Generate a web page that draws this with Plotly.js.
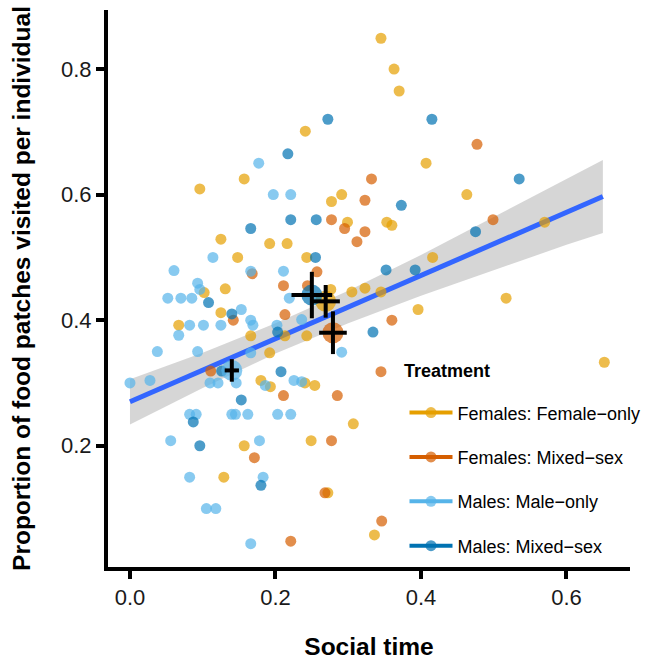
<!DOCTYPE html>
<html><head><meta charset="utf-8">
<script src="https://cdn.plot.ly/plotly-3.0.1.min.js"></script>
<style>html,body{margin:0;padding:0;background:#fff}</style>
</head><body><div id="chart" style="width:646px;height:660px"></div>
<script>
// ---- Data ----
const treatments = ['Females: Female\u2212only', 'Females: Mixed\u2212sex', 'Males: Male\u2212only', 'Males: Mixed\u2212sex'];
const colors = ['#E69F00', '#D55E00', '#56B4E9', '#0072B2'];

const femaleOnlyX = [0.345,0.363,0.370,0.241,0.407,0.157,0.096,0.463,0.291,0.277,0.299,0.353,0.360,0.570,0.125,0.192,0.216,0.148,0.243,0.416,0.102,0.131,0.276,0.305,0.323,0.345,0.517,0.125,0.396,0.067,0.166,0.213,0.243,0.192,0.652,0.180,0.2405,0.254,0.193,0.307,0.249,0.157,0.129,0.272,0.336];
const femaleOnlyY = [0.849,0.800,0.765,0.701,0.650,0.625,0.609,0.600,0.600,0.589,0.556,0.556,0.551,0.556,0.529,0.522,0.522,0.500,0.500,0.500,0.444,0.450,0.449,0.445,0.451,0.445,0.435,0.412,0.417,0.392,0.375,0.375,0.375,0.348,0.333,0.304,0.300,0.296,0.294,0.235,0.208,0.200,0.150,0.125,0.058];

const femaleMixedX = [0.477,0.332,0.323,0.277,0.295,0.323,0.312,0.499,0.257,0.168,0.211,0.244,0.213,0.142,0.360,0.111,0.345,0.211,0.285,0.277,0.171,0.268,0.346,0.221];
const femaleMixedY = [0.680,0.625,0.591,0.560,0.546,0.541,0.525,0.560,0.477,0.474,0.455,0.455,0.409,0.400,0.400,0.319,0.318,0.280,0.280,0.208,0.181,0.125,0.080,0.048];

const maleOnlyX = [0.177,0.197,0.221,0.114,0.0605,0.166,0.211,0.093,0.096,0.052,0.070,0.085,0.219,0.153,0.166,0.236,0.169,0.202,0.082,0.101,0.125,0.067,0.0376,0.093,0.166,0.291,0.0,0.0275,0.110,0.121,0.146,0.186,0.2254,0.236,0.082,0.091,0.140,0.145,0.162,0.203,0.221,0.056,0.178,0.082,0.183,0.105,0.118,0.166];
const maleOnlyY = [0.650,0.600,0.600,0.500,0.479,0.478,0.478,0.459,0.449,0.435,0.435,0.435,0.435,0.417,0.400,0.401,0.392,0.392,0.392,0.392,0.392,0.376,0.350,0.350,0.348,0.349,0.300,0.304,0.300,0.300,0.300,0.296,0.304,0.302,0.250,0.250,0.250,0.250,0.250,0.250,0.250,0.208,0.208,0.150,0.150,0.100,0.100,0.044];

const maleMixedX = [0.272,0.415,0.217,0.535,0.373,0.166,0.221,0.256,0.255,0.475,0.352,0.392,0.108,0.140,0.203,0.334,0.126,0.2076,0.153,0.087,0.096,0.180];
const maleMixedY = [0.720,0.720,0.665,0.625,0.583,0.546,0.560,0.560,0.500,0.541,0.480,0.480,0.428,0.410,0.381,0.381,0.319,0.318,0.273,0.238,0.200,0.137];

// group means and their errors (order as in treatments)
const meanX = [0.269, 0.279, 0.140, 0.250];
const meanY = [0.430, 0.380, 0.320, 0.440];
const meanXErr = [0.0195, 0.019, 0.0098, 0.028];
const meanYErr = [0.026, 0.034, 0.018, 0.037];

// regression fit and confidence band
const bandX = [0, 0.1, 0.2, 0.3, 0.4, 0.5, 0.6, 0.65];
const fitY = [0.270, 0.320, 0.371, 0.421, 0.471, 0.522, 0.572, 0.597];
const bandLower = [0.234, 0.292, 0.347, 0.395, 0.439, 0.480, 0.520, 0.539];
const bandUpper = [0.306, 0.348, 0.395, 0.447, 0.504, 0.564, 0.624, 0.655];

// ---- Build traces ----
const pointSets = [[femaleOnlyX, femaleOnlyY], [femaleMixedX, femaleMixedY], [maleOnlyX, maleOnlyY], [maleMixedX, maleMixedY]];
function rgba(hex, a) {
  const r = parseInt(hex.slice(1,3),16), g = parseInt(hex.slice(3,5),16), b = parseInt(hex.slice(5,7),16);
  return `rgba(${r},${g},${b},${a})`;
}
const traces = [];
traces.push({x: bandX, y: bandLower, mode: 'lines', line: {width: 0}, hoverinfo: 'skip', showlegend: false});
traces.push({x: bandX, y: bandUpper, mode: 'lines', line: {width: 0}, fill: 'tonexty', fillcolor: 'rgba(153,153,153,0.4)', hoverinfo: 'skip', showlegend: false});
traces.push({x: bandX, y: fitY, mode: 'lines', line: {color: '#3366FF', width: 5}, showlegend: false});
pointSets.forEach((p, i) => {
  traces.push({x: p[0], y: p[1], mode: 'markers', name: treatments[i], showlegend: false,
    marker: {size: 11, color: rgba(colors[i], 0.7), line: {width: 0}}});
});
traces.push({x: meanX, y: meanY, mode: 'markers', showlegend: false,
  marker: {size: 21, color: colors.map(c => rgba(c, 0.7)), line: {width: 0}}});
traces.push({x: meanX, y: meanY, mode: 'markers', showlegend: false,
  marker: {size: 1, opacity: 0},
  error_x: {type: 'data', array: meanXErr, color: '#000', thickness: 4, width: 0},
  error_y: {type: 'data', array: meanYErr, color: '#000', thickness: 4, width: 0}});
treatments.forEach((t, i) => {
  traces.push({x: [null], y: [null], mode: 'lines+markers', name: t, legendgroup: 'g' + i,
    line: {color: colors[i], width: 4}, marker: {size: 11, color: rgba(colors[i], 0.7)}});
});

const fam = 'Liberation Sans, Arial, sans-serif';
const tickFont = {family: fam, size: 22, color: '#1a1a1a'};
const titleFont = {family: fam, size: 24.5, color: '#000', weight: 'bold'};
const layout = {
  width: 646, height: 660,
  margin: {l: 108, r: 16, t: 10, b: 93, autoexpand: false},
  paper_bgcolor: '#fff', plot_bgcolor: '#fff',
  font: {family: fam},
  xaxis: {range: [-0.0302, 0.6873], tickvals: [0, 0.2, 0.4, 0.6], ticktext: ['0.0','0.2','0.4','0.6'],
    showline: true, linewidth: 4, linecolor: '#000', ticks: 'outside', ticklen: 8, tickwidth: 4, tickcolor: '#000',
    showgrid: false, zeroline: false, tickfont: tickFont,
    title: {text: 'Social time', font: titleFont, standoff: 29}},
  yaxis: {range: [0.0069, 0.894], tickvals: [0.2, 0.4, 0.6, 0.8], ticktext: ['0.2','0.4','0.6','0.8'],
    showline: true, linewidth: 4, linecolor: '#000', ticks: 'outside', ticklen: 8, tickwidth: 4, tickcolor: '#000',
    showgrid: false, zeroline: false, tickfont: tickFont,
    title: {text: 'Proportion of food patches visited per individual', font: titleFont, standoff: 24}},
  legend: {x: 0.568, y: 0.310, xanchor: 'left', yanchor: 'top', bgcolor: 'rgba(0,0,0,0)',
    font: {family: fam, size: 18, color: '#000'},
    itemwidth: 43, tracegroupgap: 18, itemsizing: 'trace'},
  annotations: [{text: 'Treatment', xref: 'paper', yref: 'paper', x: 0.563, y: 0.3515,
    xanchor: 'left', yanchor: 'middle', showarrow: false,
    font: {family: fam, size: 18, color: '#000', weight: 'bold'}}],
  showlegend: true
};
Plotly.newPlot('chart', traces, layout, {staticPlot: true, displayModeBar: false});
</script></body></html>
